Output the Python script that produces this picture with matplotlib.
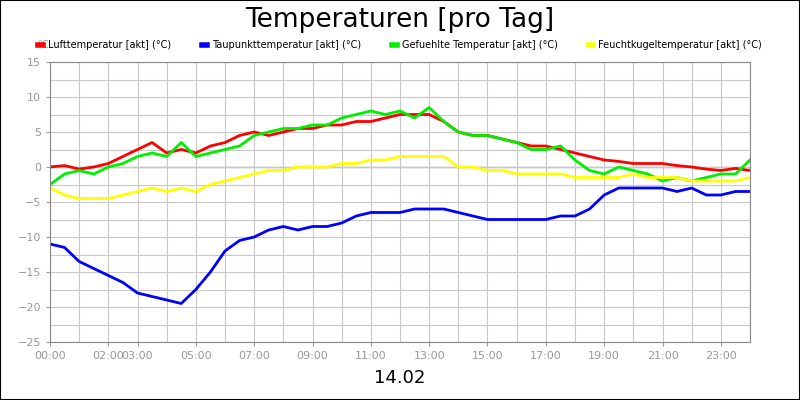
import matplotlib.pyplot as plt
import numpy as np

hours = np.arange(0, 24.01, 0.5)
luft = [0, 0.2, -0.3, 0, 0.5, 1.5, 2.5, 3.5, 2, 2.5, 2, 3, 3.5, 4.5, 5, 4.5, 5, 5.5, 5.5, 6, 6, 6.5, 6.5, 7,
        7.5, 7.5, 7.5, 6.5, 5, 4.5, 4.5, 4, 3.5, 3, 3, 2.5, 2, 1.5, 1, 0.8, 0.5, 0.5, 0.5, 0.2, 0, -0.3, -0.5, -0.2, -0.5]
taupunkt = [-11, -11.5, -13.5, -14.5, -15.5, -16.5, -18, -18.5, -19, -19.5, -17.5, -15, -12, -10.5, -10, -9, -8.5,
            -9, -8.5, -8.5, -8, -7, -6.5, -6.5, -6.5, -6, -6, -6, -6.5, -7, -7.5, -7.5, -7.5, -7.5, -7.5, -7, -7,
            -6, -4, -3, -3, -3, -3, -3.5, -3, -4, -4, -3.5, -3.5]
gefuehlt = [-2.5, -1, -0.5, -1, 0, 0.5, 1.5, 2, 1.5, 3.5, 1.5, 2, 2.5, 3, 4.5, 5, 5.5, 5.5, 6, 6, 7, 7.5, 8, 7.5,
            8, 7, 8.5, 6.5, 5, 4.5, 4.5, 4, 3.5, 2.5, 2.5, 3, 1, -0.5, -1, 0, -0.5, -1, -2, -1.5, -2, -1.5, -1, -1, 1]
feucht = [-3, -4, -4.5, -4.5, -4.5, -4, -3.5, -3, -3.5, -3, -3.5, -2.5, -2, -1.5, -1, -0.5, -0.5, 0, 0, 0, 0.5, 0.5,
          1, 1, 1.5, 1.5, 1.5, 1.5, 0, 0, -0.5, -0.5, -1, -1, -1, -1, -1.5, -1.5, -1.5, -1.5, -1, -1.5, -1.5, -1.5,
          -2, -2, -2, -2, -1.5]
series = [
    ("Lufttemperatur [akt] (°C)", luft, "#ff0000"),
    ("Taupunkttemperatur [akt] (°C)", taupunkt, "#0000ff"),
    ("Gefuehlte Temperatur [akt] (°C)", gefuehlt, "#00ee00"),
    ("Feuchtkugeltemperatur [akt] (°C)", feucht, "#ffff00"),
]
tick_hours = [0, 2, 3, 5, 7, 9, 11, 13, 15, 17, 19, 21, 23]
tick_labels = [f"{h:02d}:00" for h in tick_hours]

fig = plt.figure(figsize=(8, 4), dpi=100)
fig.patches.append(plt.Rectangle((0, 0), 1, 1, transform=fig.transFigure, fill=False, ec="black", lw=1.5))
ax = fig.add_axes([0.0625, 0.145, 0.875, 0.7])
for name, vals, col in series:
    ax.plot(hours, vals, color=col, lw=2, label=name)
ax.axhline(0, color="#999999", lw=1, zorder=0)
ax.set_xlim(0, 24)
ax.set_ylim(-25, 15)
ax.set_yticks(range(-25, 16, 5))
ax.set_yticks(np.arange(-25, 15.1, 2.5), minor=True)
ax.set_xticks(tick_hours)
ax.set_xticklabels(tick_labels)
ax.set_xticks(range(25), minor=True)
ax.grid(True, which="both", color="#c8c8c8", lw=0.8)
ax.set_axisbelow(True)
ax.tick_params(labelsize=8, colors="#999999", labelcolor="#999999", length=3)
ax.tick_params(which="minor", length=0)
for s in ax.spines.values():
    s.set_color("#888888")
fig.text(0.5, 0.95, "Temperaturen [pro Tag]", ha="center", va="center", fontsize=19)
fig.text(0.5, 0.055, "14.02", ha="center", va="center", fontsize=13)
fig.text(0.046, 0.88, "°C", fontsize=7, color="#999999")
leg = fig.legend(loc="center", bbox_to_anchor=(0.5, 0.888), ncol=4, frameon=False, fontsize=7,
                 handlelength=0.5, handleheight=0.5, columnspacing=3.2, handletextpad=0.5,
                 borderpad=0.1)
for h in leg.legend_handles:
    h.set_linewidth(4)
fig.savefig("out.png")
